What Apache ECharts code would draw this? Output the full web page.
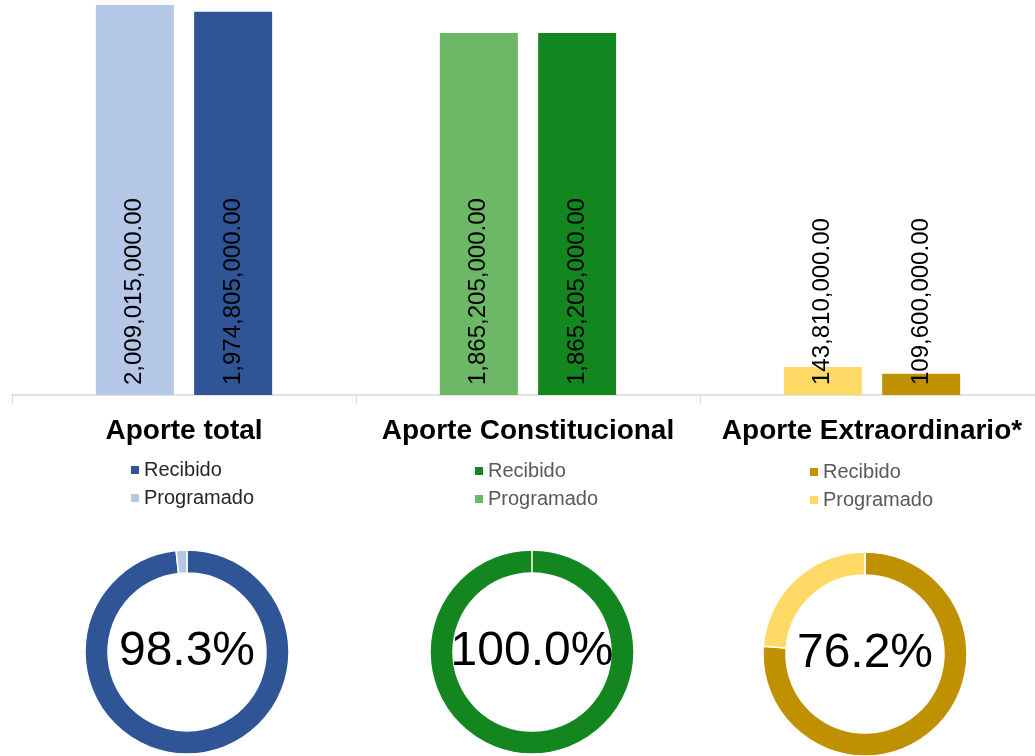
<!DOCTYPE html>
<html>
<head>
<meta charset="utf-8">
<script src="https://cdn.jsdelivr.net/npm/echarts@6/dist/echarts.min.js"></script>
<style>
  html, body { margin: 0; padding: 0; background: #fff; }
  #chart { width: 1035px; height: 756px; }
</style>
</head>
<body>
<div id="chart"></div>
<script>
// datos
const categorias = ['Aporte total', 'Aporte Constitucional', 'Aporte Extraordinario*'];
const programado = [2009015000, 1865205000, 143810000];
const recibido = [1974805000, 1865205000, 109600000];
const pendiente = [34210000, 0, 34210000];

// colores por grupo
const colorProg = ['#b4c7e7', '#6db866', '#ffd966'];
const colorRec = ['#2f5597', '#138620', '#bf9000'];

const chart = echarts.init(document.getElementById('chart'));

function fmt(v) {
    return v.toLocaleString('en-US', { minimumFractionDigits: 2, maximumFractionDigits: 2 });
}

const barLabel = {
    show: true,
    position: 'insideBottom',
    rotate: 90,
    align: 'left',
    verticalAlign: 'middle',
    distance: 10,
    fontSize: 24,
    color: '#000',
    formatter: p => fmt(p.value)
};

const pieCenters = [[187, 652], [532, 652], [865, 654]];
const legendPos = [[126, 455], [470, 456], [805, 457]];
const legendText = ['#262626', '#595959', '#595959'];

let series = [
    {
        name: 'Programado',
        type: 'bar',
        barWidth: 78,
        barGap: '26%',
        label: barLabel,
        data: programado.map((v, i) => ({ value: v, itemStyle: { color: colorProg[i] } }))
    },
    {
        name: 'Recibido',
        type: 'bar',
        barWidth: 78,
        label: barLabel,
        data: recibido.map((v, i) => ({ value: v, itemStyle: { color: colorRec[i] } }))
    }
];

let legends = [];
categorias.forEach((c, i) => {
    series.push({
        type: 'pie',
        radius: [79, 102],
        center: pieCenters[i],
        startAngle: 90,
        clockwise: true,
        silent: true,
        itemStyle: { borderColor: '#fff', borderWidth: 1.5 },
        label: { show: false },
        labelLine: { show: false },
        emphasis: { disabled: true },
        data: [
            {
                name: 'Recibido', value: recibido[i],
                itemStyle: { color: colorRec[i] },
                label: {
                    show: true,
                    position: 'center',
                    fontSize: 48,
                    color: '#000',
                    formatter: p => p.percent.toFixed(1) + '%'
                }
            },
            { name: 'Programado', value: pendiente[i], itemStyle: { color: colorProg[i] } }
        ]
    });
    legends.push({
        orient: 'vertical',
        left: legendPos[i][0],
        top: legendPos[i][1],
        icon: 'rect',
        itemWidth: 8,
        itemHeight: 8,
        itemGap: 8,
        selectedMode: false,
        textStyle: { fontSize: 20, color: legendText[i], lineHeight: 20 },
        data: [
            { name: 'Recibido', itemStyle: { color: colorRec[i] } },
            { name: 'Programado', itemStyle: { color: colorProg[i] } }
        ]
    });
});

let option = {
    backgroundColor: '#fff',
    animation: false,
    textStyle: { fontFamily: 'Arial, "Liberation Sans", sans-serif' },
    grid: { left: 12, width: 1032, top: 5, bottom: 361, outerBoundsMode: 'none', containLabel: false },
    legend: legends,
    xAxis: {
        type: 'category',
        data: categorias,
        axisLine: { lineStyle: { color: '#d9d9d9', width: 1.5 } },
        axisTick: { show: true, length: 9, lineStyle: { color: '#d9d9d9' } },
        axisLabel: {
            margin: 22,
            fontSize: 28,
            fontWeight: 'bold',
            color: '#000',
            interval: 0
        }
    },
    yAxis: {
        type: 'value',
        show: false,
        min: 0,
        max: 'dataMax',
        splitLine: { show: false }
    },
    series: series
};

chart.setOption(option);
</script>
</body>
</html>
